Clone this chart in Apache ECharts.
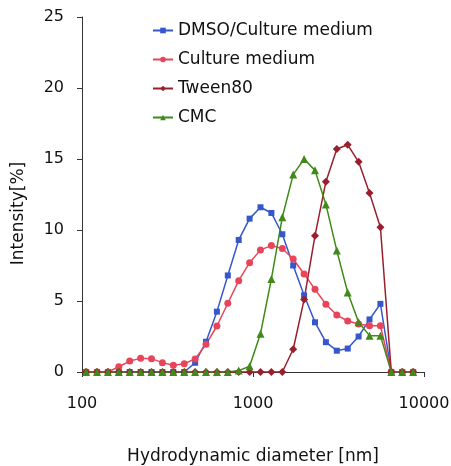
<!DOCTYPE html>
<html>
<head>
<meta charset="utf-8">
<script src="https://cdn.jsdelivr.net/npm/echarts@6/dist/echarts.min.js"></script>
<style>
  html, body { margin: 0; padding: 0; background: #fff; }
  #chart { width: 451px; height: 466px; }
</style>
</head>
<body>
<div id="chart"></div>
<script>
// size bins (nm)
const sizes = [105.7, 122.4, 141.8, 164.2, 190.1, 220.2, 255.0, 295.3, 342.0, 396.1,
  458.7, 531.2, 615.1, 712.4, 825.0, 955.4, 1106, 1281, 1484, 1718,
  1990, 2305, 2669, 3091, 3580, 4145, 4801, 5560, 6439, 7456, 8635];

const dmso = [0, 0, 0, 0, 0, 0, 0, 0, 0, 0,
  0.65, 2.13, 4.25, 6.8, 9.3, 10.8, 11.6, 11.2, 9.7, 7.5,
  5.4, 3.5, 2.1, 1.5, 1.65, 2.5, 3.7, 4.8, 0, 0, 0];

const culture = [0, 0, 0, 0.37, 0.77, 0.96, 0.94, 0.66, 0.47, 0.58,
  0.92, 1.95, 3.24, 4.84, 6.43, 7.7, 8.6, 8.9, 8.7, 7.96,
  6.9, 5.82, 4.77, 4.01, 3.59, 3.38, 3.26, 3.26, 0, 0, 0];

const tween = [0, 0, 0, 0, 0, 0, 0, 0, 0, 0,
  0, 0, 0, 0, 0, 0, 0, 0, 0, 1.6,
  5.1, 9.6, 13.4, 15.7, 16.0, 14.8, 12.6, 10.2, 0, 0, 0];

const cmc = [0, 0, 0, 0, 0, 0, 0, 0, 0, 0,
  0, 0, 0, 0, 0.1, 0.4, 2.7, 6.55, 10.9, 13.9,
  15.0, 14.2, 11.8, 8.55, 5.6, 3.5, 2.56, 2.56, 0, 0, 0];

const font = '"DejaVu Sans", sans-serif';

function pairs(vals) {
  return sizes.map((s, i) => [s, vals[i]]);
}

function line(name, vals, color, symbol, size) {
  return {
    name: name,
    type: 'line',
    data: pairs(vals),
    symbol: symbol,
    symbolSize: size,
    itemStyle: { color: color },
    lineStyle: { color: color, width: 1.5 },
    animation: false
  };
}

const chart = echarts.init(document.getElementById('chart'));
chart.setOption({
  backgroundColor: '#fff',
  textStyle: { fontFamily: font },
  grid: { left: 82, right: 27, top: 17, bottom: 94, outerBoundsMode: 'none' },
  legend: {
    orient: 'vertical',
    left: 147,
    top: 17,
    itemGap: 12,
    itemWidth: 20,
    itemHeight: 7,
    textStyle: { fontSize: 17, color: '#111', fontFamily: font },
    data: ['DMSO/Culture medium', 'Culture medium', 'Tween80', 'CMC']
  },
  xAxis: {
    type: 'log',
    logBase: 10,
    min: 100,
    max: 10000,
    name: 'Hydrodynamic diameter [nm]',
    nameLocation: 'middle',
    nameGap: 76,
    nameTextStyle: { fontSize: 17, color: '#111' },
    axisLine: { lineStyle: { color: '#333', width: 1 } },
    axisTick: { show: true, length: 5, lineStyle: { color: '#333' } },
    minorTick: { show: false },
    axisLabel: {
      fontSize: 16, color: '#111', margin: 24,
      formatter: v => String(Math.round(v))
    },
    splitLine: { show: false }
  },
  yAxis: {
    type: 'value',
    min: 0,
    max: 25,
    interval: 5,
    name: 'Intensity[%]',
    nameLocation: 'middle',
    nameGap: 55,
    nameTextStyle: { fontSize: 17, color: '#111', padding: [0, 38, 0, 0] },
    axisLine: { show: true, lineStyle: { color: '#333', width: 1 } },
    axisTick: { show: true, length: 5, lineStyle: { color: '#333' } },
    axisLabel: { fontSize: 16, color: '#111', margin: 18 },
    splitLine: { show: false }
  },
  series: [
    line('DMSO/Culture medium', dmso, '#3657cc', 'rect', 6),
    line('Culture medium', culture, '#e8455a', 'circle', 7),
    line('Tween80', tween, '#9a1f2e', 'diamond', 8),
    line('CMC', cmc, '#3f8a18', 'triangle', 8)
  ]
});
</script>
</body>
</html>
